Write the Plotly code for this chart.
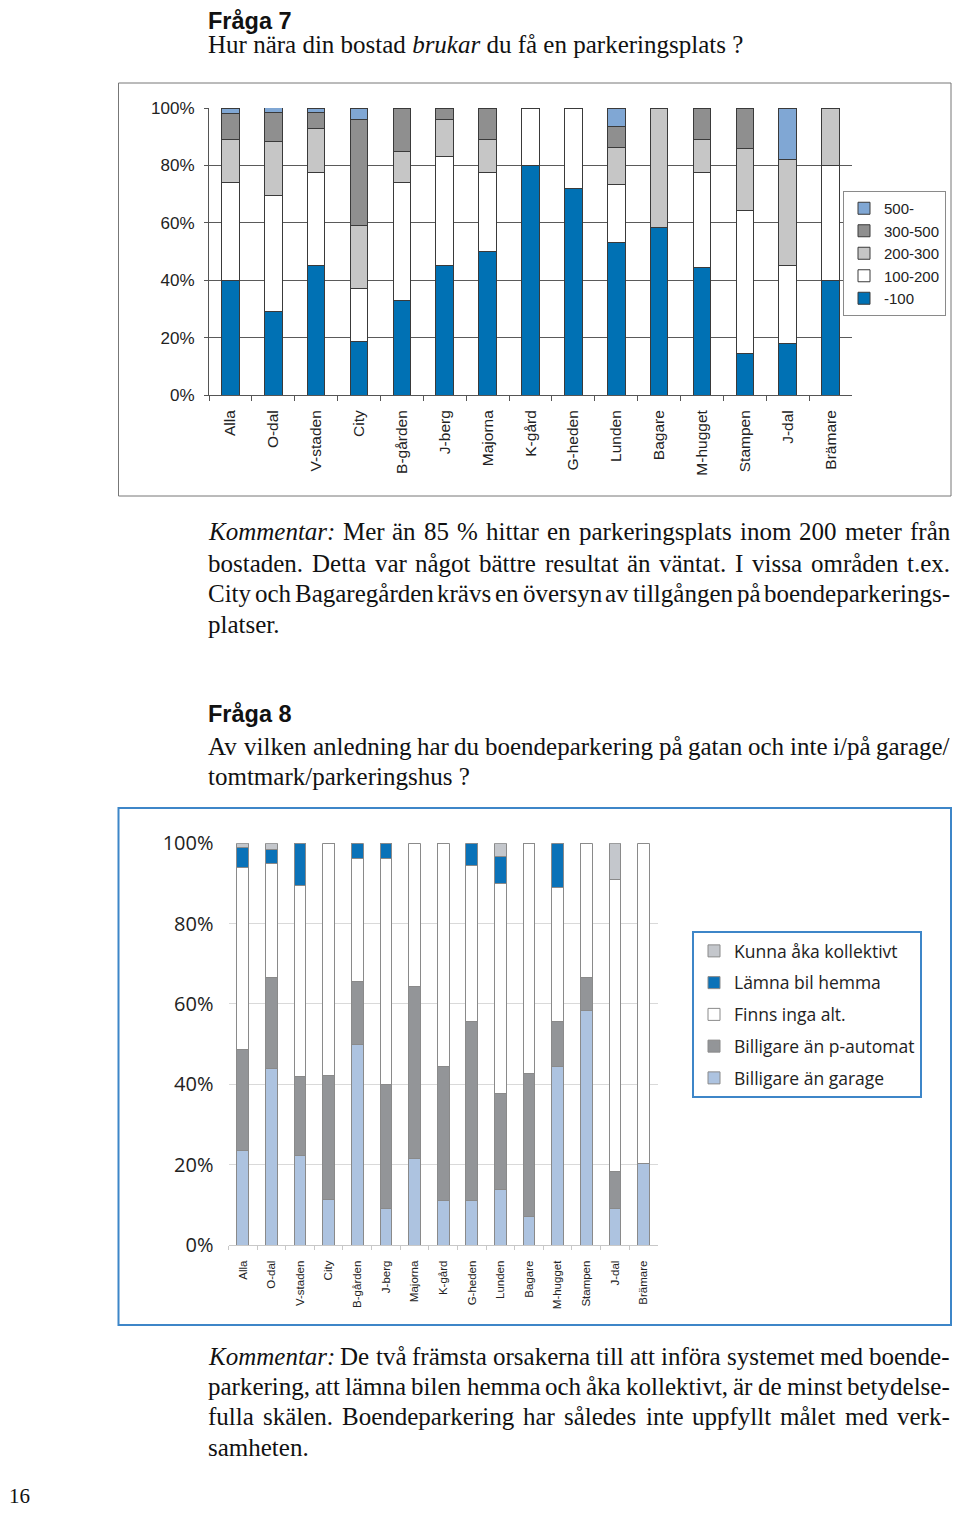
import glob
import re
import struct
import plotly.graph_objects as go

# ---------------- Data: Fråga 7 ----------------
areas = ["Alla", "O-dal", "V-staden", "City", "B-gården", "J-berg", "Majorna", "K-gård",
         "G-heden", "Lunden", "Bagare", "M-hugget", "Stampen", "J-dal", "Brämare"]

q7_names = ["-100", "100-200", "200-300", "300-500", "500-"]
q7_u100 = [40, 29, 45, 18.5, 33, 45, 50, 80, 72, 53, 58.5, 44.3, 14.3, 18, 40]
q7_100_200 = [34, 40.5, 32.5, 18.5, 41, 38, 27.5, 20, 28, 20.3, 0, 33.2, 50.1, 27, 40]
q7_200_300 = [15, 19, 15.5, 22, 11, 13, 11.5, 0, 0, 13, 41.5, 11.6, 21.4, 36.9, 20]
q7_300_500 = [9, 10, 5.5, 37, 15, 4, 11, 0, 0, 7.1, 0, 10.9, 14.2, 0, 0]
q7_500 = [2, 1.7, 1.5, 4, 0, 0, 0, 0, 0, 6.6, 0, 0, 0, 18.1, 0]
q7_colors = ["#0071b4", "#ffffff", "#c6c6c6", "#8f8f8f", "#80a7d4"]

# ---------------- Data: Fråga 8 ----------------
q8_names = ["Billigare än garage", "Billigare än p-automat", "Finns inga alt.",
            "Lämna bil hemma", "Kunna åka kollektivt"]
q8_garage = [23.5, 43.9, 22.4, 11.4, 50.0, 9.0, 21.5, 11.2, 11.0, 13.9, 7.1, 44.4, 58.4, 9.0, 20.2]
q8_pauto = [25.2, 22.8, 19.5, 30.9, 15.5, 31.0, 42.8, 33.2, 44.7, 23.9, 35.6, 11.3, 8.3, 9.3, 0]
q8_finns = [45.3, 28.2, 47.7, 57.7, 30.8, 56.3, 35.7, 55.6, 38.8, 52.1, 57.3, 33.3, 33.3, 72.7, 79.8]
q8_lamna = [5.0, 3.6, 10.4, 0, 3.7, 3.7, 0, 0, 5.5, 6.8, 0, 11.0, 0, 0, 0]
q8_kollektivt = [1.0, 1.5, 0, 0, 0, 0, 0, 0, 0, 3.3, 0, 0, 0, 9.0, 0]
q8_colors = ["#adc3e0", "#939598", "#ffffff", "#0a72b8", "#c4c7cc"]

yticks = [0, 20, 40, 60, 80, 100]
ytick_text = ["0%", "20%", "40%", "60%", "80%", "100%"]

# page is 960x1516; browser body adds 8px margin, so figure is 944x1500
OFF = 8
W, H = 944, 1500
def px(x):
    return (x - OFF) / W
def py(y):
    return 1 - (y - OFF) / H


# ---------- font metrics (for justified body text) ----------
def load_advances(path):
    data = open(path, "rb").read()
    num = struct.unpack(">H", data[4:6])[0]
    tables = {}
    for i in range(num):
        tag, _cs, off, ln = struct.unpack(">4sIII", data[12 + 16 * i:28 + 16 * i])
        tables[tag.decode("latin1")] = off
    head = tables["head"]
    upem = struct.unpack(">H", data[head + 18:head + 20])[0]
    hhea = tables["hhea"]
    nhm = struct.unpack(">H", data[hhea + 34:hhea + 36])[0]
    hm = tables["hmtx"]
    adv = [struct.unpack(">H", data[hm + 4 * i:hm + 4 * i + 2])[0] for i in range(nhm)]
    cm = tables["cmap"]
    nsub = struct.unpack(">H", data[cm + 2:cm + 4])[0]
    cmap = {}
    for i in range(nsub):
        pid, eid, off = struct.unpack(">HHI", data[cm + 4 + 8 * i:cm + 12 + 8 * i])
        st = cm + off
        fmt = struct.unpack(">H", data[st:st + 2])[0]
        if fmt != 4 or pid not in (0, 3):
            continue
        segx2 = struct.unpack(">H", data[st + 6:st + 8])[0]
        seg = segx2 // 2
        ends = struct.unpack(">%dH" % seg, data[st + 14:st + 14 + segx2])
        starts = struct.unpack(">%dH" % seg, data[st + 16 + segx2:st + 16 + 2 * segx2])
        deltas = struct.unpack(">%dh" % seg, data[st + 16 + 2 * segx2:st + 16 + 3 * segx2])
        rpos = st + 16 + 3 * segx2
        roffs = struct.unpack(">%dH" % seg, data[rpos:rpos + segx2])
        for s in range(seg):
            if starts[s] > 0x2FF:
                continue
            for c in range(starts[s], min(ends[s], 0x2FF) + 1):
                if roffs[s] == 0:
                    g = (c + deltas[s]) & 0xFFFF
                else:
                    a = rpos + 2 * s + roffs[s] + 2 * (c - starts[s])
                    g = struct.unpack(">H", data[a:a + 2])[0]
                    if g:
                        g = (g + deltas[s]) & 0xFFFF
                cmap[c] = g
        break

    def width(text, size):
        tot = 0
        for ch in text:
            g = cmap.get(ord(ch), 0)
            tot += adv[min(g, nhm - 1)]
        return tot * size / upem
    return width


def find_font(name):
    hits = glob.glob("/usr/share/fonts/**/" + name, recursive=True)
    return hits[0] if hits else None

try:
    w_reg = load_advances(find_font("LiberationSerif-Regular.ttf"))
    w_it = load_advances(find_font("LiberationSerif-Italic.ttf"))
except Exception:
    w_reg = w_it = None

fig = go.Figure()

n = len(q7_names)
for i, (name, vals, col) in enumerate(zip(q7_names, [q7_u100, q7_100_200, q7_200_300, q7_300_500, q7_500], q7_colors)):
    fig.add_trace(go.Bar(x=areas, y=vals, name=name, marker=dict(color=col, line=dict(color="#3a3a3a", width=1)),
                         xaxis="x", yaxis="y", legend="legend", legendgroup="a" + name, legendrank=100 + n - i))

for i, (name, vals, col) in enumerate(zip(q8_names, [q8_garage, q8_pauto, q8_finns, q8_lamna, q8_kollektivt], q8_colors)):
    fig.add_trace(go.Bar(x=areas, y=vals, name=name, marker=dict(color=col, line=dict(color="#8a8a8a", width=1)),
                         xaxis="x2", yaxis="y2", legend="legend2", legendgroup="b" + name, legendrank=200 + n - i))

serif = "Liberation Serif"
sans = "Liberation Sans"

fig.update_layout(
    width=W, height=H, margin=dict(l=0, r=0, t=0, b=0, autoexpand=False),
    paper_bgcolor="white", plot_bgcolor="white",
    barmode="stack", bargap=0.59,
    xaxis=dict(domain=[px(209), px(852)], anchor="y", type="category", categoryorder="array", categoryarray=areas,
               tickangle=-90, tickfont=dict(family=sans, size=15.5, color="#222"), automargin=False,
               showline=True, linecolor="#555", linewidth=1, ticks="outside", tickson="boundaries",
               ticklen=5, tickcolor="#555", showgrid=False, ticklabelstandoff=8),
    yaxis=dict(domain=[py(395), py(108)], anchor="x", range=[0, 100], tickmode="array", tickvals=yticks,
               ticktext=ytick_text, automargin=False,
               tickfont=dict(family=sans, size=17, color="#222"), showgrid=True, gridcolor="#5a5a5a", gridwidth=1,
               showline=True, linecolor="#555", ticks="outside", ticklen=4, tickcolor="#555",
               ticklabelstandoff=6, zeroline=False),
    xaxis2=dict(domain=[px(228.5), px(657.8)], anchor="y2", type="category", categoryorder="array", categoryarray=areas,
                tickangle=-90, tickfont=dict(family=sans, size=11.5, color="#222"), automargin=False,
                showline=True, linecolor="#c8c8c8", linewidth=1, ticks="outside", tickson="boundaries",
                ticklen=4, tickcolor="#c8c8c8", showgrid=False, ticklabelstandoff=10),
    yaxis2=dict(domain=[py(1245), py(843.3)], anchor="x2", range=[0, 100], tickmode="array", tickvals=yticks,
                ticktext=ytick_text, automargin=False,
                tickfont=dict(family="Open Sans", size=20, color="#222"), showgrid=True, gridcolor="#d9d9d9",
                gridwidth=1, showline=False, ticks="", ticklabelstandoff=14, zeroline=False),
    legend=dict(x=px(843), y=py(191), xanchor="left", yanchor="top", bordercolor="#8a8a8a", borderwidth=1,
                bgcolor="white", font=dict(family=sans, size=15, color="#222"), traceorder="grouped",
                tracegroupgap=0, itemwidth=30),
    legend2=dict(x=px(692), y=py(931), xanchor="left", yanchor="top", bordercolor="#3d86c8", borderwidth=2,
                 bgcolor="white", font=dict(family="Open Sans", size=17.5, color="#222"), traceorder="grouped",
                 tracegroupgap=6, itemwidth=30),
    showlegend=True,
)

# Chart frames
fig.add_shape(type="rect", xref="paper", yref="paper", x0=px(118.5), x1=px(951), y0=py(496), y1=py(83),
              line=dict(color="#777", width=1), layer="below")
fig.add_shape(type="rect", xref="paper", yref="paper", x0=px(118.5), x1=px(951), y0=py(1325), y1=py(808),
              line=dict(color="#3d86c8", width=2), layer="below")

BODY = 25
LEFT, RIGHT = 208, 950
# (text, y, justified)
body_lines = [
    ("Hur nära din bostad <i>brukar</i> du få en parkeringsplats ?", 45, False),
    ("<i>Kommentar:</i> Mer än 85 % hittar en parkeringsplats inom 200 meter från", 532, True),
    ("bostaden. Detta var något bättre resultat än väntat. I vissa områden t.ex.", 563, True),
    ("City och Bagaregården krävs en översyn av tillgången på boendeparkerings-", 593, True),
    ("platser.", 624, False),
    ("Av vilken anledning har du boendeparkering på gatan och inte i/på garage/", 746, True),
    ("tomtmark/parkeringshus ?", 776, False),
    ("<i>Kommentar:</i> De två främsta orsakerna till att införa systemet med boende-", 1356, True),
    ("parkering, att lämna bilen hemma och åka kollektivt, är de minst betydelse-", 1386, True),
    ("fulla skälen. Boendeparkering har således inte uppfyllt målet med verk-", 1416, True),
    ("samheten.", 1447, False),
]


def put(text, x, y, fam, size, xshift=-2):
    fig.add_annotation(text=text, xref="paper", yref="paper", x=px(x), y=py(y), xanchor="left",
                       yanchor="middle", showarrow=False,
                       font=dict(family=fam, size=size, color="#111"), xshift=xshift)


for text, y, just in body_lines:
    if not just or w_reg is None:
        put(text, LEFT, y, serif, BODY)
        continue
    words = text.split(" ")
    widths = []
    for wd in words:
        plain = re.sub(r"</?i>", "", wd)
        f = w_it if wd.startswith("<i>") else w_reg
        widths.append(f(plain, BODY))
    gap = (RIGHT - LEFT - sum(widths)) / (len(words) - 1)
    if gap < 0.1 * BODY:
        put(text, LEFT, y, serif, BODY)
        continue
    x = LEFT
    for wd, wv in zip(words, widths):
        put(wd, x, y, serif, BODY)
        x += wv + gap

# headings and page number
fig.add_annotation(text="<b>Fråga 7</b>", xref="paper", yref="paper", x=px(208), y=1, xanchor="left",
                   yanchor="top", showarrow=False, font=dict(family=sans, size=23.5, color="#111"),
                   xshift=-2, yshift=2)
put("<b>Fråga 8</b>", 208, 714, sans, 23.5)
fig.add_annotation(text="16", xref="paper", yref="paper", x=0, y=0, xanchor="left", yanchor="bottom",
                   showarrow=False, font=dict(family=serif, size=21, color="#111"), xshift=-1, yshift=-2)

fig.write_html("out.html")
